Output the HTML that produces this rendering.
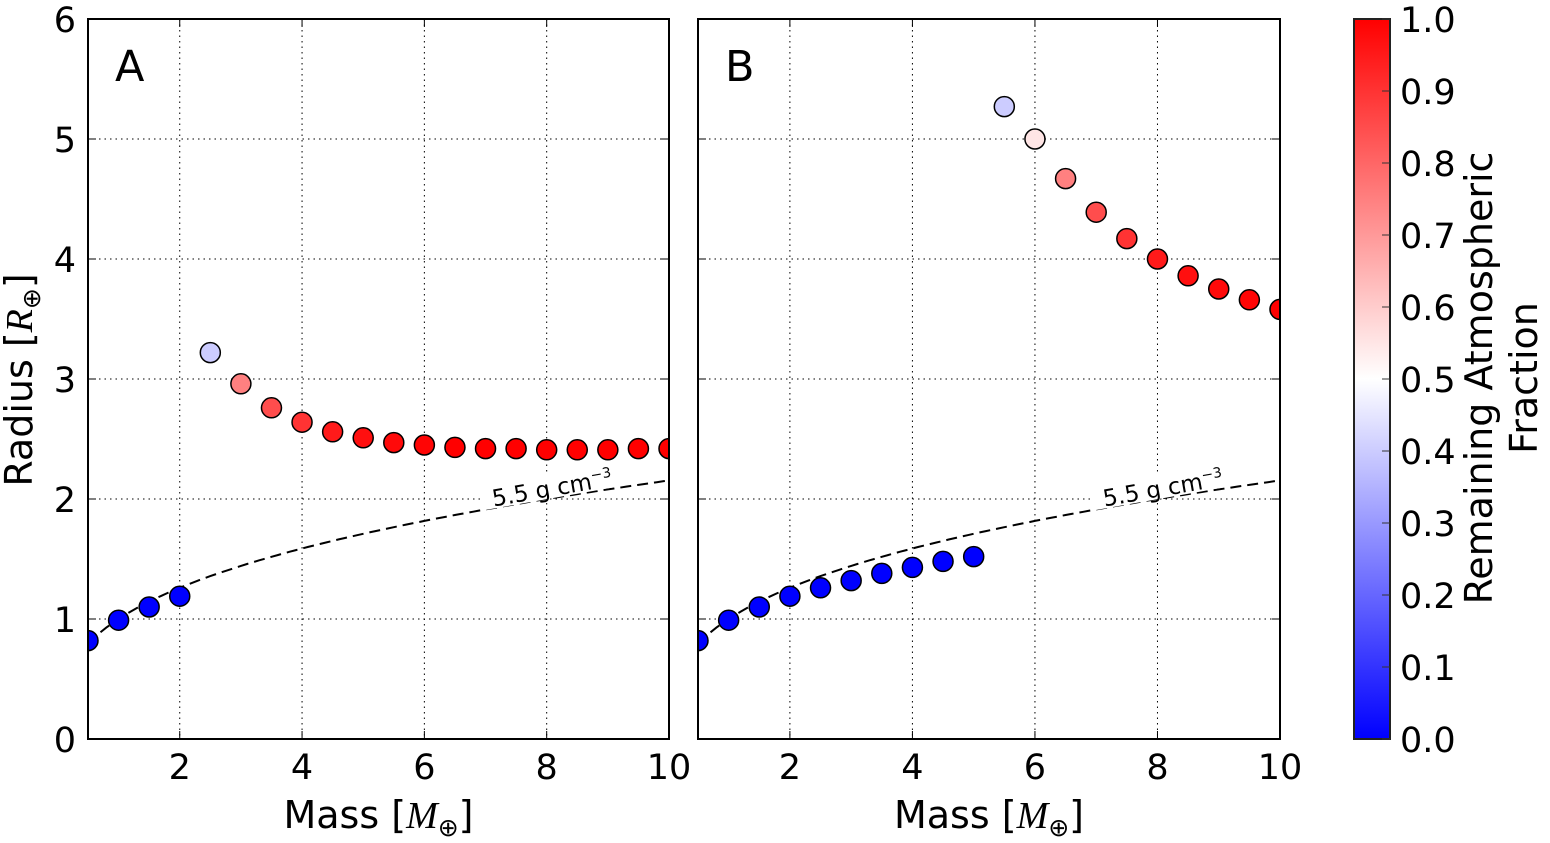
<!DOCTYPE html>
<html><head><meta charset="utf-8"><style>
body{margin:0;background:#fff}
svg text{font-family:"DejaVu Sans","Liberation Sans",sans-serif}
</style></head><body>
<svg id="chart" width="1550" height="838" xmlns="http://www.w3.org/2000/svg"></svg>
<script>
const masses=[0.5,1,1.5,2,2.5,3,3.5,4,4.5,5,5.5,6,6.5,7,7.5,8,8.5,9,9.5,10];
const radiusA=[0.82,0.99,1.10,1.19,3.22,2.96,2.76,2.64,2.56,2.51,2.47,2.45,2.43,2.42,2.42,2.41,2.41,2.41,2.42,2.42];
const fracA=[0,0,0,0,0.4,0.75,0.85,0.9,0.95,0.97,0.98,0.99,1,1,1,1,1,1,1,1];
const radiusB=[0.82,0.99,1.10,1.19,1.26,1.32,1.38,1.43,1.48,1.52,5.27,5.0,4.67,4.39,4.17,4.0,3.86,3.75,3.66,3.58];
const fracB=[0,0,0,0,0,0,0,0,0,0,0.4,0.55,0.75,0.85,0.9,0.95,0.97,0.98,0.99,1];
const xTicks=[2,4,6,8,10];
const yTicks=[0,1,2,3,4,5,6];
const cbTicks=["0.0","0.1","0.2","0.3","0.4","0.5","0.6","0.7","0.8","0.9","1.0"];
const NS="http://www.w3.org/2000/svg";
const svg=document.getElementById('chart');
function mk(tag,attrs,parent){const e=document.createElementNS(NS,tag);for(const k in attrs)e.setAttribute(k,attrs[k]);(parent||svg).appendChild(e);return e;}
function bwr(f){let r,g,b;if(f<0.5){r=g=Math.round(255*f*2);b=255;}else{r=255;g=b=Math.round(255*(1-f)*2);}return `rgb(${r},${g},${b})`;}
const yTop=19,yBot=739;
const sy=v=>yBot-(v/6)*(yBot-yTop);
function panel(x0,x1,radii,fracs,letter,name){
  const sx=v=>x0+(v-0.5)/9.5*(x1-x0);
  const g=mk('g',{});
  
  
  const cp=mk('clipPath',{id:'clip'+letter},g);mk('rect',{x:x0,y:yTop,width:x1-x0,height:yBot-yTop},cp);
  xTicks.forEach(t=>{if(t<10){const l=mk('line',{x1:sx(t),x2:sx(t),y1:yTop,y2:yBot,stroke:'#000','stroke-width':1,'stroke-dasharray':'1.5,4'},g);}
    const tx=mk('text',{x:sx(t),y:yBot+40,'font-size':35,'text-anchor':'middle'},g);tx.textContent=t;
    mk('line',{x1:sx(t),x2:sx(t),y1:yBot,y2:yBot-8,stroke:'#000','stroke-width':1},g);mk('line',{x1:sx(t),x2:sx(t),y1:yTop,y2:yTop+8,stroke:'#000','stroke-width':1},g);});
  yTicks.forEach(t=>{if(t>0&&t<6){const l=mk('line',{x1:x0,x2:x1,y1:sy(t),y2:sy(t),stroke:'#000','stroke-width':1,'stroke-dasharray':'1.5,4'},g);}
    mk('line',{x1:x0,x2:x0+8,y1:sy(t),y2:sy(t),stroke:'#000'},g);mk('line',{x1:x1,x2:x1-8,y1:sy(t),y2:sy(t),stroke:'#000'},g);});
  let d='';for(let m=0.5;m<=10.001;m+=0.1){d+=(d?'L':'M')+sx(m).toFixed(1)+','+sy(Math.pow(m,1/3)).toFixed(1);}
  const c=mk('path',{d:d,fill:'none',stroke:'#000','stroke-width':2,'stroke-dasharray':'11,6','clip-path':`url(#clip${letter})`},g);
  
  const lx=sx(8.1),ly=sy(Math.pow(8.1,1/3))-6;
  mk('rect',{x:lx-72,y:ly-19,width:144,height:25,fill:'#fff',transform:`rotate(-10 ${lx} ${ly})`},g);
  const lt=mk('text',{x:lx,y:ly+4,'font-size':23,'text-anchor':'middle',transform:`rotate(-10 ${lx} ${ly})`},g);
  lt.innerHTML='5.5 g cm<tspan dy="-9" font-size="14">−3</tspan>';
  
  const pg=mk('g',{'clip-path':`url(#clip${letter})`},g);
  masses.forEach((m,i)=>{const p=mk('circle',{cx:sx(m),cy:sy(radii[i]),r:10,fill:bwr(fracs[i]),stroke:'#000','stroke-width':1.5},pg);
    });
  const fr=mk('rect',{x:x0,y:yTop,width:x1-x0,height:yBot-yTop,fill:'none',stroke:'#000','stroke-width':2},g);
  
  const L=mk('text',{x:x0+27,y:81,'font-size':43},g);L.textContent=letter;
  const xl=mk('text',{x:(x0+x1)/2,y:828,'font-size':38,'text-anchor':'middle'},g);
  xl.innerHTML='Mass [<tspan font-family="Liberation Serif" font-style="italic">M</tspan><tspan font-size="25" dy="8">⊕</tspan><tspan dy="-8">]</tspan>';
  
}
panel(88,669,radiusA,fracA,'A','panel-a');
panel(698,1280,radiusB,fracB,'B','panel-b');
yTicks.forEach(t=>{const tx=mk('text',{x:76,y:sy(t)+13,'font-size':35,'text-anchor':'end'});tx.textContent=t;
  });
const yl=mk('text',{x:0,y:0,'font-size':38,'text-anchor':'middle',transform:'translate(32 380) rotate(-90)'});
yl.innerHTML='Radius [<tspan font-family="Liberation Serif" font-style="italic">R</tspan><tspan font-size="25" dy="8">⊕</tspan><tspan dy="-8">]</tspan>';

const gdefs=mk('defs',{});const lg=mk('linearGradient',{id:'cb',x1:0,y1:1,x2:0,y2:0},gdefs);
mk('stop',{offset:'0','stop-color':'#0000ff'},lg);mk('stop',{offset:'0.5','stop-color':'#ffffff'},lg);mk('stop',{offset:'1','stop-color':'#ff0000'},lg);
const cb=mk('rect',{x:1354,y:yTop,width:36,height:yBot-yTop,fill:'url(#cb)',stroke:'#222','stroke-width':2});

cbTicks.forEach((t,i)=>{const y=yBot-i/10*(yBot-yTop);mk('line',{x1:1382,x2:1390,y1:y,y2:y,stroke:'#333'});
  const tx=mk('text',{x:1400,y:y+13,'font-size':35});tx.textContent=t;});
const c1=mk('text',{x:0,y:0,'font-size':38,'text-anchor':'middle',transform:'translate(1492 378) rotate(-90)'});c1.textContent='Remaining Atmospheric';

const c2=mk('text',{x:0,y:0,'font-size':38,'text-anchor':'middle',transform:'translate(1537 378) rotate(-90)'});c2.textContent='Fraction';

</script>
</body></html>
